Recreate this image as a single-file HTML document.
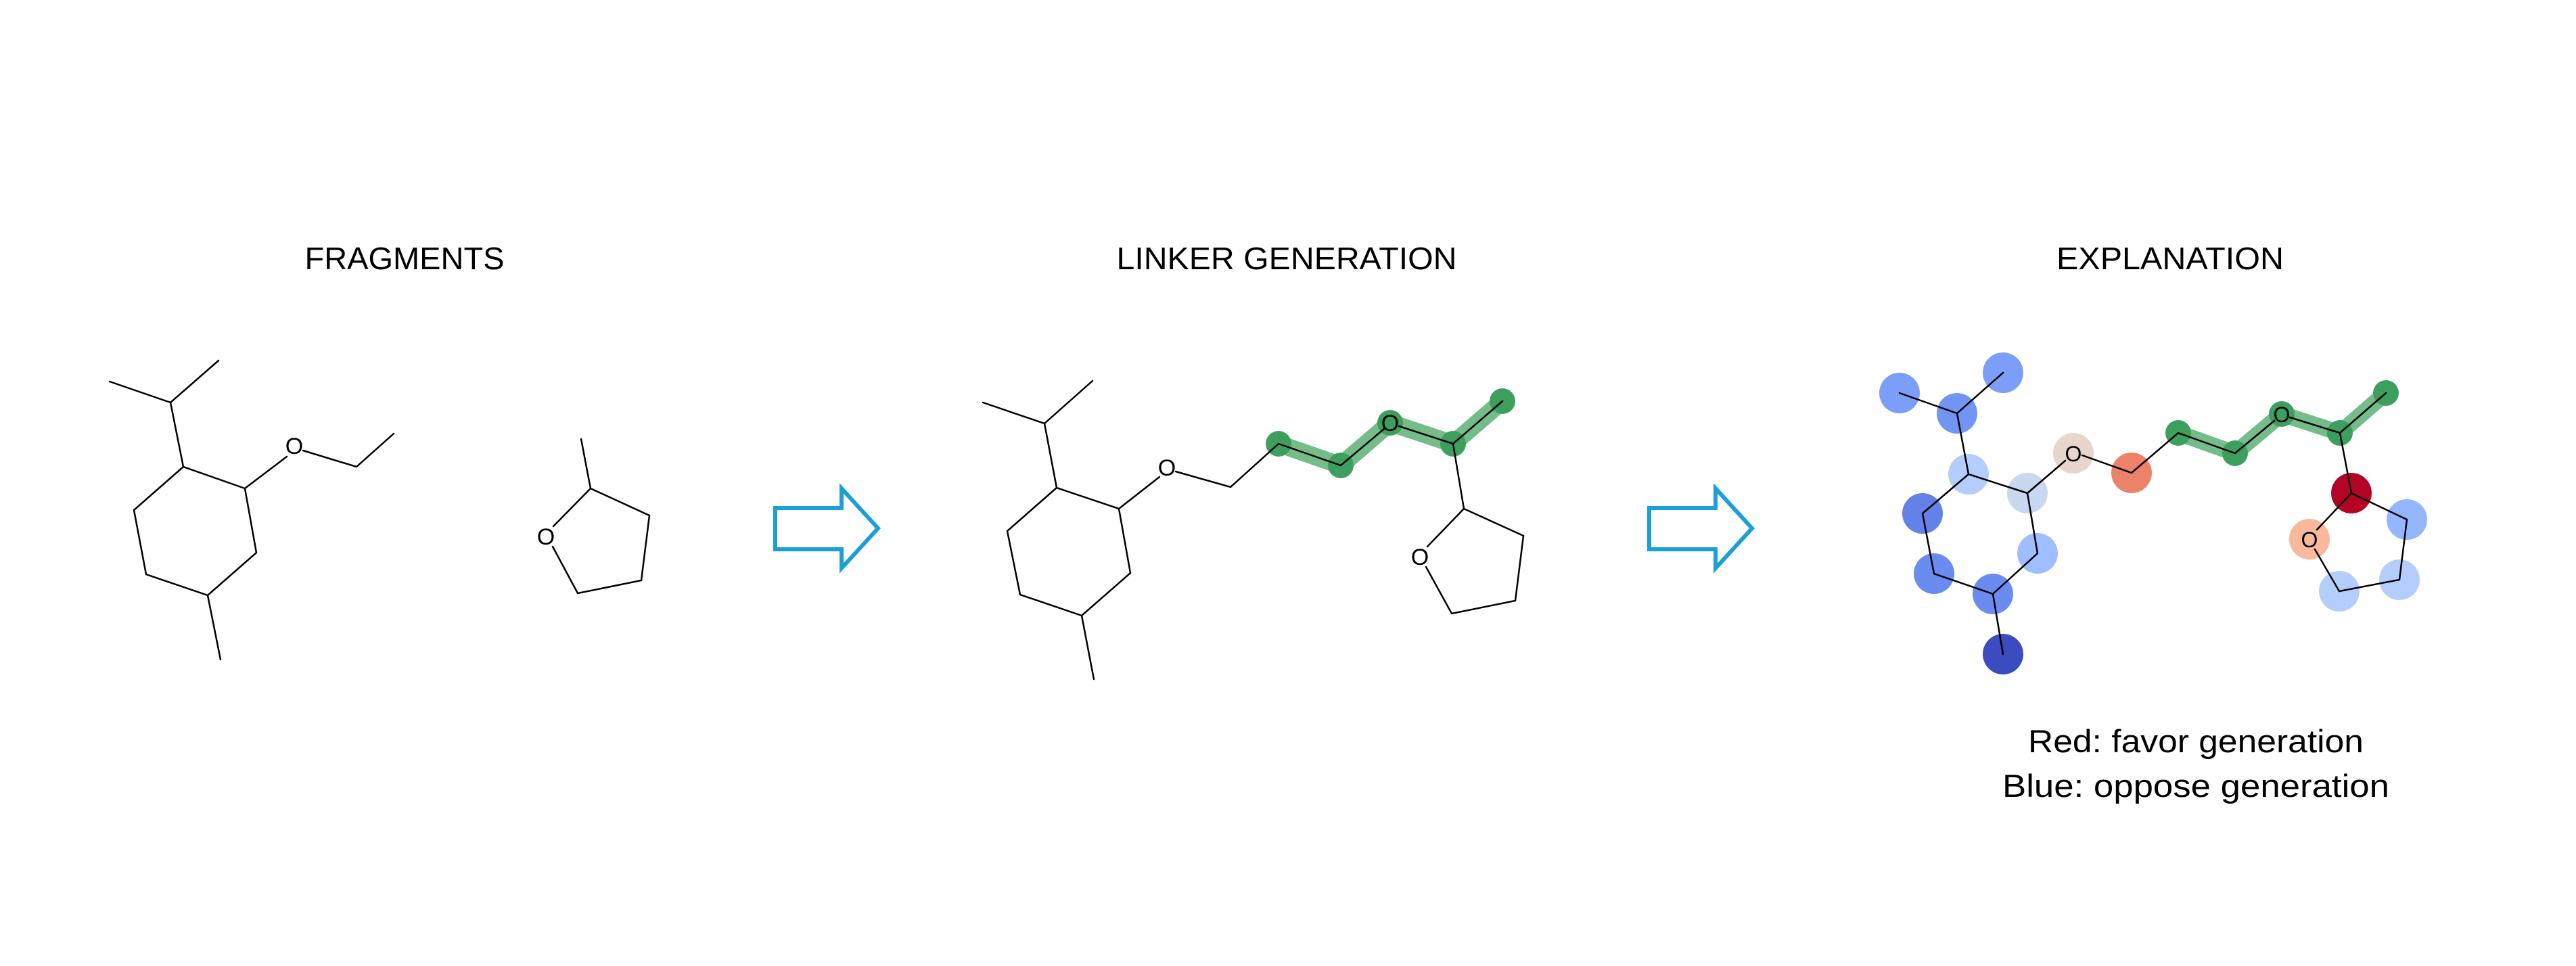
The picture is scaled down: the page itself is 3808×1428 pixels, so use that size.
<!DOCTYPE html>
<html><head><meta charset="utf-8"><style>
html,body{margin:0;padding:0;background:#fff;}
svg{display:block;}
text{font-family:"Liberation Sans",sans-serif;fill:#000;}
</style></head><body>
<svg width="3808" height="1428" viewBox="0 0 3808 1428" xmlns="http://www.w3.org/2000/svg">
<rect width="3808" height="1428" fill="#fff"/>
<text x="598" y="398" font-size="46" text-anchor="middle" textLength="295" lengthAdjust="spacingAndGlyphs">FRAGMENTS</text>
<text x="1902" y="398" font-size="46" text-anchor="middle" textLength="503" lengthAdjust="spacingAndGlyphs">LINKER GENERATION</text>
<text x="3208" y="398" font-size="46" text-anchor="middle" textLength="336" lengthAdjust="spacingAndGlyphs">EXPLANATION</text>

<g stroke="#000" stroke-width="2.5" fill="none" stroke-linecap="round">
<polyline points="323,533 252,595 162,564"/>
<polyline points="252,595 271,690 362,722 379,817 307,880 216,849 198,754 271,690"/>
<line x1="307" y1="880" x2="326" y2="975"/>
<line x1="362" y1="722" x2="424" y2="675"/>
<polyline points="448,666 527,690 582,641"/>
<polyline points="859,649 873,722 960,762 948,858 854,877 817,808"/>
<line x1="873" y1="722" x2="818" y2="778"/>
</g>
<text x="435" y="671" font-size="34" text-anchor="middle">O</text>
<text x="807" y="805" font-size="34" text-anchor="middle">O</text>

<polygon points="1146,751 1244,751 1244,722 1298,781 1244,840 1244,812 1146,812" fill="none" stroke="#1a9fd8" stroke-width="6" stroke-linejoin="miter"/>

<g stroke="#74bd8a" stroke-width="26" fill="none" stroke-linecap="round" stroke-linejoin="round">
<polyline points="1890,656 1982,688 2055,625 2148,656 2221,593"/>
</g>
<g fill="#3d9f5e">
<circle cx="1890" cy="656" r="19"/><circle cx="1982" cy="688" r="19"/><circle cx="2055" cy="625" r="19"/><circle cx="2148" cy="656" r="19"/><circle cx="2221" cy="593" r="19"/>
</g>
<g stroke="#000" stroke-width="2.5" fill="none" stroke-linecap="round">
<polyline points="1615,563 1544,626 1453,595"/>
<polyline points="1544,626 1562,721 1654,752 1671,847 1599,910 1508,879 1489,785 1562,721"/>
<line x1="1599" y1="910" x2="1617" y2="1004"/>
<line x1="1654" y1="752" x2="1714" y2="705"/>
<polyline points="1738,697 1819,720 1890,656 1982,688 2046,634"/>
<polyline points="2068,630 2148,656 2221,593"/>
<polyline points="2148,656 2164,752 2252,792 2240,888 2146,907 2108,838"/>
<line x1="2164" y1="752" x2="2110" y2="808"/>
</g>
<text x="1725" y="703" font-size="34" text-anchor="middle">O</text>
<text x="2055" y="637" font-size="34" text-anchor="middle">O</text>
<text x="2099" y="835" font-size="34" text-anchor="middle">O</text>

<polygon points="2438,751 2536,751 2536,722 2590,781 2536,840 2536,812 2438,812" fill="none" stroke="#1a9fd8" stroke-width="6" stroke-linejoin="miter"/>

<g>
<circle cx="2808" cy="581" r="30" fill="#7b9ff9"/>
<circle cx="2961" cy="551" r="30" fill="#7b9ff9"/>
<circle cx="2893" cy="611" r="30" fill="#7295f4"/>
<circle cx="2910" cy="701" r="30" fill="#b4cdfa"/>
<circle cx="2997" cy="729" r="30" fill="#c9d7f0"/>
<circle cx="3065" cy="670" r="30" fill="#e8d6cc"/>
<circle cx="3151" cy="699" r="30" fill="#ec8369"/>
<circle cx="2842" cy="759" r="30" fill="#6282ea"/>
<circle cx="2859" cy="848" r="30" fill="#6a8bef"/>
<circle cx="2946" cy="878" r="30" fill="#6a8bef"/>
<circle cx="2961" cy="967" r="30" fill="#3b4cc0"/>
<circle cx="3012" cy="818" r="30" fill="#9ebeff"/>
<circle cx="3476" cy="729" r="30" fill="#b40426"/>
<circle cx="3558" cy="768" r="30" fill="#94b6ff"/>
<circle cx="3547" cy="857" r="30" fill="#b5cdfa"/>
<circle cx="3458" cy="874" r="30" fill="#b5cdfa"/>
<circle cx="3414" cy="797" r="30" fill="#f7b89c"/>
</g>
<g stroke="#74bd8a" stroke-width="24" fill="none" stroke-linecap="round" stroke-linejoin="round">
<polyline points="3220,640 3304,670 3373,612 3459,640 3527,581"/>
</g>
<g fill="#3d9f5e">
<circle cx="3220" cy="640" r="19"/><circle cx="3304" cy="670" r="19"/><circle cx="3373" cy="612" r="19"/><circle cx="3459" cy="640" r="19"/><circle cx="3527" cy="581" r="19"/>
</g>
<g stroke="#000" stroke-width="2.5" fill="none" stroke-linecap="round">
<polyline points="2961,551 2893,611 2808,581"/>
<polyline points="2893,611 2910,701 2997,729 3012,818 2946,878 2859,848 2842,759 2910,701"/>
<line x1="2946" y1="878" x2="2961" y2="967"/>
<line x1="2997" y1="729" x2="3053" y2="681"/>
<polyline points="3078,673 3151,699 3220,640 3304,670 3362,622"/>
<polyline points="3385,617 3459,640 3527,581"/>
<polyline points="3459,640 3476,729 3558,768 3547,857 3458,874 3422,812"/>
<line x1="3476" y1="729" x2="3425" y2="783"/>
</g>
<text x="3065" y="682" font-size="32" text-anchor="middle">O</text>
<text x="3373" y="624" font-size="32" text-anchor="middle">O</text>
<text x="3414" y="809" font-size="32" text-anchor="middle">O</text>

<text x="3246" y="1112" font-size="47" text-anchor="middle" textLength="496" lengthAdjust="spacingAndGlyphs">Red: favor generation</text>
<text x="3246" y="1178" font-size="47" text-anchor="middle" textLength="572" lengthAdjust="spacingAndGlyphs">Blue: oppose generation</text>
</svg>
</body></html>
